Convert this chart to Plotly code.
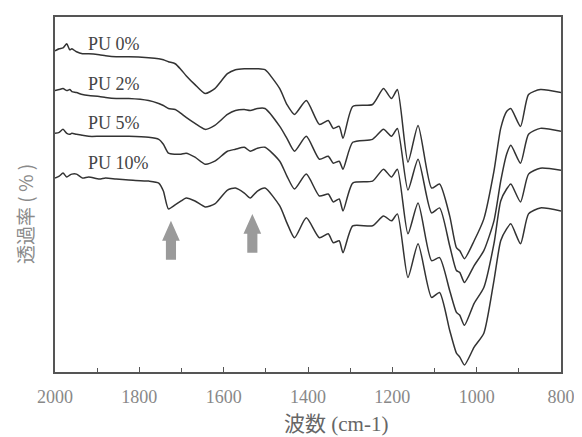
import plotly.graph_objects as go

# Wavenumber grid (cm-1)
wavenumber = [2000,1990,1981,1972,1965,1960,1949,1935,1920,1895,
              1880,1855,1825,1778,1754,1743,1731,1715,1701,1689,
              1668,1644,1621,1591,1572,1551,1537,1520,1502,1467,
              1450,1432,1404,1373,1352,1340,1326,1317,1294,1247,
              1221,1202,1188,1163,1139,1107,1088,1064,1048,1040,
              1029,1006,983,959,943,929,919,896,877,849,
              800]

# Transmittance (arbitrary units, offset curves)
pu0 = [323,325,326,330,324,325,322,320,320,319,
       318,317,317,316,315,314,312,310,304,298,
       289,280,285,300,304,305,305,305,304,285,
       269,259,273,249,253,245,247,235,267,269,
       285,275,284,211,248,185,189,157,125,122,
       114,132,154,202,245,262,265,247,279,284,
       281]
pu2 = [283,284,285,283,284,282,281,279,278,277,
       276,275,275,273,270,268,265,264,260,256,
       250,244,248,259,263,264,263,265,265,247,
       235,222,237,214,217,210,212,204,231,234,
       244,237,245,183,214,160,165,127,102,100,
       90,107,122,152,192,219,228,210,239,245,
       242]
pu5 = [240,241,244,240,239,240,239,238,237,237,
       237,237,237,236,234,229,220,219,219,220,
       216,209,212,222,224,226,222,225,226,212,
       197,184,199,177,179,171,174,162,190,192,
       204,196,204,139,170,112,115,82,60,57,
       47,69,85,129,172,184,189,171,199,205,
       203]
pu10 = [195,197,200,196,198,199,199,195,196,194,
        195,194,193,192,190,182,164,168,172,175,
        172,166,169,183,185,180,175,182,185,167,
        150,135,155,135,139,130,132,120,147,147,
        157,152,159,95,129,75,80,42,19,15,
        7,25,39,92,132,144,149,129,159,165,
        162]

series_names = ["PU 0%", "PU 2%", "PU 5%", "PU 10%"]
series_values = [pu0, pu2, pu5, pu10]
label_wn = [1927, 1927, 1927, 1927]
label_y = [330, 290, 250, 210]

# Arrows marking new bands
arrow_wn = [1725, 1532]
arrow_tip = [152, 159]
arrow_base = [113, 120]

x_ticks = [2000, 1800, 1600, 1400, 1200, 1000, 800]

fig = go.Figure()
for name, vals in zip(series_names, series_values):
    fig.add_trace(go.Scatter(x=wavenumber, y=vals, mode="lines", name=name,
                             line=dict(color="#333333", width=1.5, shape="spline", smoothing=0.6),
                             showlegend=False))

head_half = 21
shaft_half = 12
head_len = 20
for wn, tip, base in zip(arrow_wn, arrow_tip, arrow_base):
    hb = tip - head_len
    xs = [wn, wn + head_half, wn + shaft_half, wn + shaft_half, wn - shaft_half, wn - shaft_half, wn - head_half, wn]
    ys = [tip, hb, hb, base, base, hb, hb, tip]
    fig.add_trace(go.Scatter(x=xs, y=ys, mode="lines", fill="toself",
                             fillcolor="#9a9a9a", line=dict(width=0, color="#9a9a9a"),
                             showlegend=False, hoverinfo="skip"))

for name, xw, yv in zip(series_names, label_wn, label_y):
    fig.add_annotation(x=xw, y=yv, text=name, showarrow=False, xanchor="left", yanchor="middle",
                       font=dict(family="Liberation Serif", size=18, color="#444444"))

fig.add_annotation(x=0.556, y=-0.146, xref="paper", yref="paper", text="波数 (cm-1)",
                   showarrow=False, xanchor="center", yanchor="middle",
                   font=dict(family="Liberation Serif, Noto Sans CJK JP", size=21, color="#666666"))
fig.add_annotation(x=-0.06, y=0.444, xref="paper", yref="paper", text="透過率 ( % )",
                   showarrow=False, textangle=-90, xanchor="center", yanchor="middle",
                   font=dict(family="Noto Sans CJK JP", size=19, color="#8a8a8a"))

fig.update_layout(
    width=574, height=429,
    margin=dict(l=47, r=14, t=7, b=65),
    paper_bgcolor="white", plot_bgcolor="white",
    xaxis=dict(range=[2000, 800], tickvals=x_ticks, ticks="inside", ticklen=5, tickwidth=1,
               tickcolor="#555555", showline=True, mirror=True, linecolor="#555555", linewidth=1.5,
               showgrid=False, zeroline=False, ticklabeloverflow="allow", ticklabelstandoff=8,
               minor=dict(dtick=100, ticks="inside", ticklen=4, tickcolor="#555555", showgrid=False),
               tickfont=dict(family="Liberation Serif", size=18, color="#888888")),
    yaxis=dict(range=[0, 357], showticklabels=False, ticks="", showline=True, mirror=True,
               linecolor="#555555", linewidth=1.5, showgrid=False, zeroline=False),
)

fig.write_html("out.html")
